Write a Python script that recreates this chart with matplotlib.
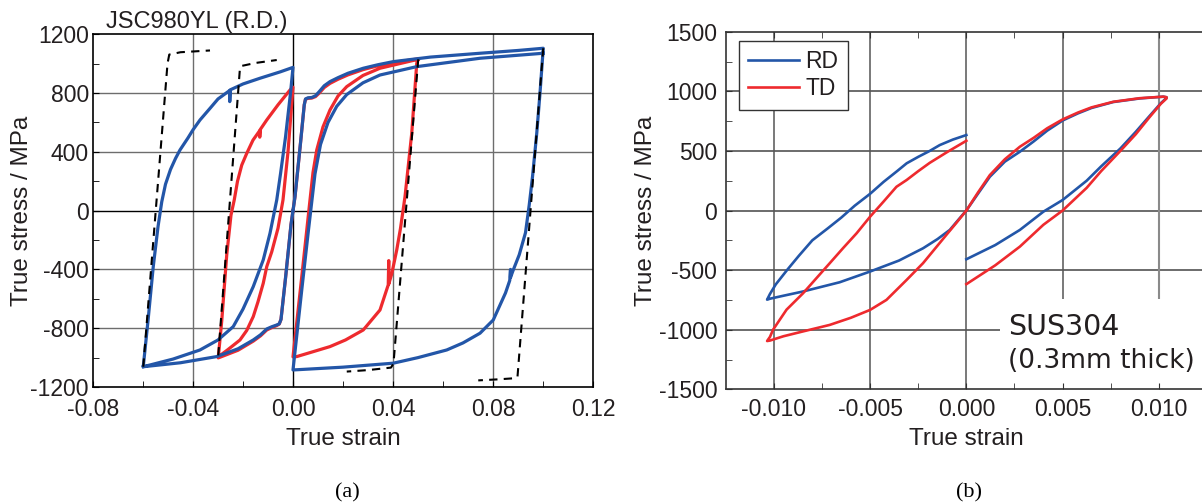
import matplotlib
matplotlib.use("Agg")
import matplotlib.pyplot as plt
from matplotlib.patches import Rectangle

# ---------------- (a) JSC980YL (R.D.) ----------------
# tension first, prestrain 0.10 (blue): load -> reverse -> reload
a_blue_t_strain = [0.0, 0.0008, 0.0030, 0.0045, 0.0050, 0.0060, 0.0075, 0.0090, 0.0105,
                   0.0125, 0.0148, 0.0180, 0.0220, 0.0281, 0.0340, 0.0401, 0.0550, 0.0748,
                   0.0900, 0.1001,
                   0.0988, 0.0975, 0.0958, 0.0945, 0.0930, 0.0905, 0.0881, 0.0870, 0.0870,
                   0.0867, 0.0850, 0.0801, 0.0748, 0.0680, 0.0615, 0.0500, 0.0401, 0.0200,
                   0.0,
                   0.0035, 0.0060, 0.0075, 0.0088, 0.0110, 0.0140, 0.0175, 0.0215, 0.0280,
                   0.0348, 0.0495, 0.0748, 0.1001]
a_blue_t_stress = [0, 95, 460, 720, 760, 768, 770, 782, 810,
                   850, 878, 905, 935, 969, 993, 1014, 1045, 1071,
                   1090, 1105,
                   800, 527, 230, 40, -150, -300, -404, -455, -400,
                   -475, -560, -744, -834, -900, -948, -1000, -1038, -1065,
                   -1084,
                   -540, -160, 60, 250, 450, 600, 710, 790, 870,
                   923, 980, 1037, 1071]

# tension first, prestrain 0.05 (red)
a_red_t_strain = [0.0, 0.0008, 0.0030, 0.0045, 0.0050, 0.0060, 0.0075, 0.0090, 0.0105,
                  0.0125, 0.0148, 0.0180, 0.0220, 0.0281, 0.0340, 0.0401, 0.0501,
                  0.0495, 0.0475, 0.0448, 0.0430, 0.0415, 0.0395, 0.0383, 0.0383, 0.0381,
                  0.0348, 0.0281, 0.0210, 0.0148, 0.0070, 0.0015, 0.0,
                  0.0035, 0.0068, 0.0080, 0.0095, 0.0120, 0.0148, 0.0180, 0.0215, 0.0280,
                  0.0348, 0.0501]
a_red_t_stress = [0, 95, 460, 720, 758, 764, 766, 776, 800,
                  838, 866, 894, 924, 960, 986, 1008, 1033,
                  1003, 527, 95, -120, -267, -430, -500, -340, -505,
                  -676, -812, -880, -925, -965, -993, -995,
                  -450, 73, 260, 413, 570, 685, 780, 844, 920,
                  969, 1030]

# compression first, prestrain -0.06 (blue)
a_blue_c_strain = [0.0, -0.0008, -0.0030, -0.0048, -0.0055, -0.0065, -0.0085, -0.0105,
                   -0.0130, -0.0159, -0.0220, -0.0305, -0.0450, -0.0599,
                   -0.0580, -0.0559, -0.0540, -0.0525, -0.0510, -0.0490, -0.0470, -0.0452,
                   -0.0420, -0.0400, -0.0372, -0.0330, -0.0300, -0.0253, -0.0253, -0.0251,
                   -0.0200, -0.0132, -0.0050, 0.0,
                   -0.0010, -0.0030, -0.0050, -0.0065, -0.0092, -0.0119, -0.0159, -0.0200,
                   -0.0239, -0.0300, -0.0372, -0.0480, -0.0599]
a_blue_c_stress = [0, -95, -460, -740, -770, -778, -790, -805,
                   -845, -880, -940, -993, -1035, -1062,
                   -750, -381, -110, 60, 180, 280, 355, 413,
                   495, 550, 617, 700, 760, 818, 742, 822,
                   862, 901, 945, 975,
                   800, 500, 250, 73, -154, -335, -517, -670,
                   -789, -880, -948, -1010, -1062]

# compression first, prestrain -0.03 (red)
a_red_c_strain = [0.0, -0.0008, -0.0030, -0.0048, -0.0055, -0.0065, -0.0085, -0.0105,
                  -0.0130, -0.0159, -0.0220, -0.0299,
                  -0.0285, -0.0265, -0.0248, -0.0235, -0.0222, -0.0205, -0.0185, -0.0160,
                  -0.0133, -0.0133, -0.0131, -0.0105, -0.0060, -0.0012, 0.0,
                  -0.0020, -0.0040, -0.0060, -0.0085, -0.0105, -0.0119, -0.0140, -0.0159,
                  -0.0185, -0.0212, -0.0260, -0.0299]
a_red_c_stress = [0, -95, -460, -740, -772, -782, -796, -812,
                  -852, -888, -950, -1002,
                  -750, -300, -30, 73, 200, 310, 390, 480,
                  545, 500, 552, 617, 720, 821, 840,
                  400, 73, -120, -280, -381, -494, -620, -721,
                  -815, -880, -945, -995]

# dashed predictions
a_dash_strain = [
    [-0.0599, -0.0502, -0.0495, -0.0450, -0.0332],
    [-0.0299, -0.0212, -0.0205, -0.0150, -0.0065],
    [0.0501, 0.0402, 0.0392, 0.0300, 0.0215],
    [0.1001, 0.0898, 0.0890, 0.0820, 0.0741],
]
a_dash_stress = [
    [-1062, 1000, 1062, 1078, 1090],
    [-985, 975, 985, 1005, 1025],
    [1030, -1040, -1068, -1085, -1095],
    [1105, -1130, -1140, -1148, -1155],
]

a_xticks = [-0.08, -0.04, 0.0, 0.04, 0.08, 0.12]
a_yticks = [-1200, -800, -400, 0, 400, 800, 1200]

# ---------------- (b) SUS304 ----------------
# RD, tension first: load to +0.0103 then reverse to 0
b_rd_t_strain = [0.0, 0.0006, 0.00122, 0.0020, 0.00278, 0.0035, 0.0042, 0.0050, 0.0058,
                 0.0065, 0.00763, 0.0090, 0.01023, 0.0104, 0.0104, 0.0101, 0.0095, 0.0088,
                 0.0080, 0.0070, 0.00625, 0.0050, 0.0040, 0.00278, 0.0015, 0.0]
b_rd_t_stress = [0, 140, 283, 410, 493, 580, 670, 755, 815,
                 860, 910, 940, 955, 950, 945, 900, 790, 660,
                 520, 370, 250, 88, -10, -163, -290, -409]
# RD, compression first: load to -0.0103 then reverse to 0
b_rd_c_strain = [0.0, -0.0004, -0.00086, -0.0015, -0.00225, -0.0035, -0.0050, -0.00658,
                 -0.0085, -0.0095, -0.0102, -0.01035, -0.0102, -0.0099, -0.0093, -0.0087,
                 -0.0080, -0.0072, -0.0065, -0.0058, -0.0050, -0.0043, -0.0036, -0.0031,
                 -0.0025, -0.0019, -0.00138, -0.0007, 0.0]
b_rd_c_stress = [0, -75, -163, -240, -317, -420, -512, -602,
                 -680, -715, -740, -748, -700, -620, -497, -380,
                 -250, -150, -60, 40, 140, 240, 330, 396,
                 450, 500, 549, 595, 633]
# TD
b_td_t_strain = [0.0, 0.0006, 0.00122, 0.0020, 0.00278, 0.0035, 0.0042, 0.0050, 0.0058,
                 0.0065, 0.00763, 0.0090, 0.01023, 0.0104, 0.0104, 0.0101, 0.0095, 0.0088,
                 0.0080, 0.0070, 0.00625, 0.0050, 0.0040, 0.00278, 0.0015, 0.0]
b_td_t_stress = [0, 150, 297, 430, 535, 610, 690, 764, 822,
                 865, 912, 942, 955, 950, 940, 895, 780, 640,
                 500, 330, 190, 0, -120, -303, -460, -618]
b_td_c_strain = [0.0, -0.0005, -0.00104, -0.00225, -0.0031, -0.00415, -0.0050, -0.0060,
                 -0.0071, -0.0085, -0.0095, -0.0102, -0.01035, -0.0102, -0.01004, -0.00934,
                 -0.00848, -0.0078, -0.0071, -0.0064, -0.0057, -0.0050, -0.0043, -0.00363,
                 -0.0031, -0.0025, -0.0019, -0.0010, 0.0]
b_td_c_stress = [0, -100, -205, -442, -582, -750, -834, -900,
                 -960, -1015, -1055, -1091, -1095, -1060, -1000, -832,
                 -694, -570, -443, -315, -191, -52, 75, 199,
                 256, 330, 400, 490, 585]

b_xticks = [-0.010, -0.005, 0.0, 0.005, 0.010]
b_yticks = [-1500, -1000, -500, 0, 500, 1000, 1500]

BLUE = "#2356a8"
RED = "#ee2a2e"


def main():
    plt.rcParams["font.family"] = ["Liberation Sans", "DejaVu Sans"]
    plt.rcParams["axes.unicode_minus"] = False

    fig = plt.figure(figsize=(12.02, 5.04), dpi=100)

    # ---- panel (a)
    ax1 = fig.add_axes([93 / 1202, 1 - 387 / 504, 500 / 1202, 352.7 / 504])
    ax1.set_xlim(-0.08, 0.12)
    ax1.set_ylim(-1200, 1200)
    for x in [-0.04, 0.04, 0.08]:
        ax1.axvline(x, color="#6d6d6d", lw=1.0, zorder=0.5)
    for y in [-800, -400, 400, 800]:
        ax1.axhline(y, color="#6d6d6d", lw=1.0, zorder=0.5)
    ax1.axvline(0, color="black", lw=1.0, zorder=0.6)
    ax1.axhline(0, color="black", lw=1.0, zorder=0.6)

    ax1.plot(a_red_t_strain, a_red_t_stress, color=RED, lw=2.3, zorder=2)
    ax1.plot(a_red_c_strain, a_red_c_stress, color=RED, lw=2.3, zorder=2)
    ax1.plot(a_blue_t_strain, a_blue_t_stress, color=BLUE, lw=2.3, zorder=3)
    ax1.plot(a_blue_c_strain, a_blue_c_stress, color=BLUE, lw=2.3, zorder=3)
    for xs, ys in zip(a_dash_strain, a_dash_stress):
        ax1.plot(xs, ys, color="black", lw=1.5, dashes=(4, 3), zorder=4)

    ax1.set_xticks(a_xticks)
    ax1.set_xticklabels(["%.2f" % v for v in a_xticks])
    ax1.set_yticks(a_yticks)
    ax1.set_xticks([-0.06, -0.02, 0.02, 0.06, 0.10], minor=True)
    ax1.set_yticks([-1000, -600, -200, 200, 600, 1000], minor=True)
    ax1.tick_params(which="both", direction="in", labelsize=16.5, color="black",
                    labelcolor="#231f20", length=4)
    ax1.tick_params(axis="x", pad=8)
    ax1.tick_params(axis="y", pad=3)
    ax1.set_xlabel("True strain", fontsize=17.5, color="#231f20")
    ax1.set_ylabel("True stress / MPa", fontsize=17.5, color="#231f20")
    ax1.yaxis.set_label_coords(-0.12, 0.5)
    ax1.xaxis.set_label_coords(0.5, -0.1162)
    for s in ax1.spines.values():
        s.set_linewidth(1.2)
    ax1.text(0.026, 1.004, "JSC980YL (R.D.)", transform=ax1.transAxes,
             fontsize=17, ha="left", va="bottom", color="#231f20")

    # ---- panel (b)
    ax2 = fig.add_axes([725.7 / 1202, 1 - 389.3 / 504, 481.3 / 1202, 357.6 / 504])
    ax2.set_xlim(-0.0125, 0.0125)
    ax2.set_ylim(-1500, 1500)
    for y in [-1000, -500, 0, 500, 1000]:
        ax2.axhline(y, color="#444444", lw=1.1, zorder=0.5)
    for x in [-0.010, -0.005, 0.0, 0.005]:
        ax2.axvline(x, color="#555555", lw=1.1, zorder=0.5)
    ax2.axvline(0.010, color="#8a8a8a", lw=1.5, zorder=0.5)
    ax2.add_patch(Rectangle((0.00174, -1500), 0.0125 - 0.00174, 756,
                            facecolor="white", edgecolor="none", zorder=1))

    ax2.plot(b_rd_t_strain, b_rd_t_stress, color=BLUE, lw=1.9, zorder=2, label="RD")
    ax2.plot(b_rd_c_strain, b_rd_c_stress, color=BLUE, lw=1.9, zorder=2)
    ax2.plot(b_td_t_strain, b_td_t_stress, color=RED, lw=1.9, zorder=3, label="TD")
    ax2.plot(b_td_c_strain, b_td_c_stress, color=RED, lw=1.9, zorder=3)

    ax2.set_xticks(b_xticks)
    ax2.set_xticklabels(["%.3f" % v for v in b_xticks])
    ax2.set_yticks(b_yticks)
    ax2.set_xticks([-0.0075, -0.0025, 0.0025, 0.0075], minor=True)
    ax2.set_yticks([-1250, -750, -250, 250, 750, 1250], minor=True)
    ax2.tick_params(which="both", direction="in", labelsize=16.5, pad=6,
                    top=True, color="#333333", labelcolor="#231f20", length=4)
    ax2.set_xlabel("True strain", fontsize=17.5, color="#231f20")
    ax2.set_ylabel("True stress / MPa", fontsize=17.5, color="#231f20")
    ax2.yaxis.set_label_coords(-0.1427, 0.5)
    ax2.xaxis.set_label_coords(0.5, -0.1082)
    ax2.spines["right"].set_visible(False)
    for s in ["left", "bottom", "top"]:
        ax2.spines[s].set_linewidth(1.2)
        ax2.spines[s].set_color("#333333")

    leg = ax2.legend(loc="upper left", bbox_to_anchor=(0.0277, 0.975), borderaxespad=0,
                     fontsize=16.5, fancybox=False, edgecolor="#333333", framealpha=1,
                     handlelength=2.2, handletextpad=0.3, labelspacing=0.2, borderpad=0.4)
    leg.get_frame().set_linewidth(1.0)
    for t in leg.get_texts():
        t.set_color("#231f20")

    ax2.text(0.5865, 0.152, "SUS304", transform=ax2.transAxes, fontsize=20.5,
             family="DejaVu Sans", color="#231f20", va="baseline", zorder=5)
    ax2.text(0.5865, 0.059, "(0.3mm thick)", transform=ax2.transAxes, fontsize=19,
             family="DejaVu Sans", color="#231f20", va="baseline", zorder=5)

    fig.text(347 / 1202, 1 - 493 / 504, "(a)", family="Liberation Serif", fontsize=16,
             ha="center", va="center")
    fig.text(969 / 1202, 1 - 493 / 504, "(b)", family="Liberation Serif", fontsize=16,
             ha="center", va="center")

    fig.savefig("out.png", dpi=100)


if __name__ == "__main__":
    main()
